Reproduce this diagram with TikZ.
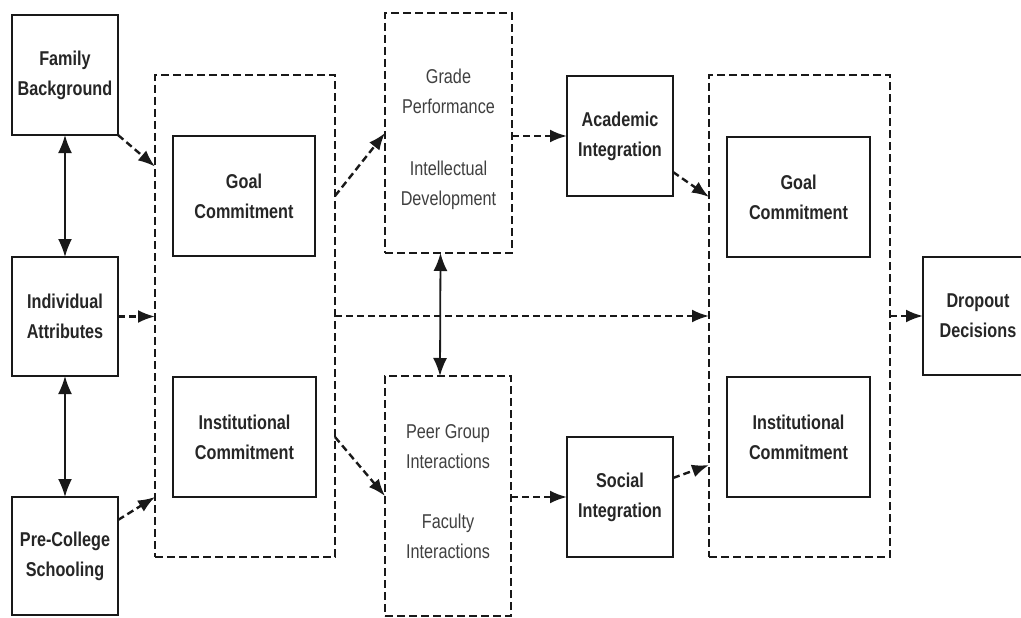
\documentclass[tikz,border=0pt]{standalone}
\usepackage{fontspec}
\setmainfont{Liberation Sans}[FakeStretch=0.81]
\usetikzlibrary{arrows.meta,calc}
\begin{document}
\begin{tikzpicture}[x=1pt,y=-1pt,
  sz/.style 2 args={minimum width=#1, minimum height=#2},
  box/.style={draw=black!90, line width=2.8pt, inner sep=0pt, outer sep=0pt,
    font=\fontsize{20}{30}\selectfont\bfseries, align=center, text=black!85},
  dbox/.style={draw=black!90, line width=2.4pt, dash pattern=on 8pt off 4pt, inner sep=0pt, outer sep=0pt},
  tx/.style={font=\fontsize{20}{30}\selectfont, align=center, text=black!75},
  darr/.style={draw=black!90, line width=2.4pt, dash pattern=on 7pt off 4pt, -{Latex[length=17pt,width=13pt]}},
  sarr/.style={draw=black!90, line width=1.8pt, {Latex[length=18pt,width=14pt]}-{Latex[length=18pt,width=14pt]}}]
\useasboundingbox[fill=white] (0,0) rectangle (1021,618);

% left column
\node[box, sz={106pt}{120pt}] (fam) at (65,75) {Family\\Background};
\node[box, sz={106pt}{119pt}] (ind) at (65,316.5) {Individual\\Attributes};
\node[box, sz={106pt}{118pt}] (pre) at (65,556) {Pre-College\\Schooling};

% left container
\node[dbox, sz={180pt}{482pt}] (lc) at (245,316) {};
\node[box, sz={142pt}{120pt}] (gc1) at (244,196) {Goal\\Commitment};
\node[box, sz={143pt}{120pt}] (ic1) at (244.5,437) {Institutional\\Commitment};

% middle dashed boxes
\node[dbox, sz={127pt}{240pt}] (gp) at (448.5,133) {};
\node[tx] (gpt) at (448.5,139) {Grade\\Performance\\[32pt]Intellectual\\Development};
\node[dbox, sz={126pt}{240pt}] (pg) at (448,496) {};
\node[tx] (pgt) at (448,492) {Peer Group\\Interactions\\[30pt]Faculty\\Interactions};

% integration boxes
\node[box, sz={106pt}{120pt}] (ai) at (620,136) {Academic\\Integration};
\node[box, sz={106pt}{120pt}] (si) at (620,497) {Social\\Integration};

% right container
\node[dbox, sz={181pt}{482pt}] (rc) at (799.5,316) {};
\node[box, sz={143pt}{120pt}] (gc2) at (798.5,197) {Goal\\Commitment};
\node[box, sz={143pt}{120pt}] (ic2) at (798.5,437) {Institutional\\Commitment};

% outcome
\node[box, sz={110pt}{118pt}] (dd) at (978,316) {Dropout\\Decisions};

% connectors
\draw[sarr] (fam.south) -- (ind.north);
\draw[sarr] (ind.south) -- (pre.north);
\draw[darr] (fam.south east) -- ($(lc.north west)!0.19!(lc.south west)$);
\draw[darr] (ind.east) -- (lc.west |- ind.east);
\draw[darr] ($(pre.north east)+(0,23)$) -- (lc.west |- pre.north);
\draw[darr] (lc.east |- gc1.east) -- (gp.west);
\draw[darr] (lc.east |- ic1.east) -- (pg.west);
\draw[darr] (lc.east) -- (rc.west);
\draw[sarr] ($(gp.south)+(-8,0)$) -- ($(pg.north)+(-8,0)$);
\draw[darr] (gp.east |- ai.west) -- (ai.west);
\draw[darr] ($(ai.east)+(0,36)$) -- (rc.west |- gc2.west);
\draw[darr] (pg.east |- si.west) -- (si.west);
\draw[darr] ($(si.east)+(0,-19)$) -- ($(rc.west |- ic2.west)+(0,28)$);
\draw[darr] (rc.east) -- (dd.west);
\end{tikzpicture}
\end{document}
